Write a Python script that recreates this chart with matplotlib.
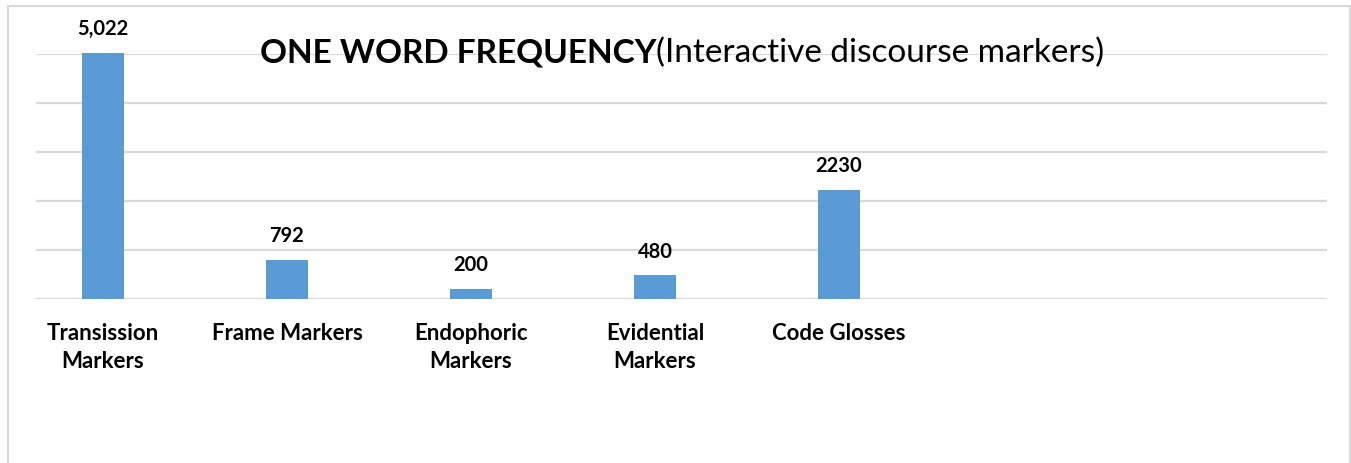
import matplotlib
matplotlib.use('Agg')
import matplotlib.pyplot as plt
from matplotlib.patches import Rectangle

plt.rcParams['font.family'] = ['Lato', 'DejaVu Sans']

categories = ['Transission\nMarkers', 'Frame Markers', 'Endophoric\nMarkers',
              'Evidential\nMarkers', 'Code Glosses']
values = [5022, 792, 200, 480, 2230]
value_labels = ['5,022', '792', '200', '480', '2230']
yticks = [0, 1000, 2000, 3000, 4000, 5000]

bar_color = '#5B9BD5'
grid_color = '#D9D9D9'

fig = plt.figure(figsize=(13.51, 4.63), dpi=100)
ax = fig.add_axes([36 / 1351, 164 / 463, 1291 / 1351, 245 / 463])

x = list(range(len(categories)))
bars = ax.bar(x, values, width=0.23, color=bar_color, zorder=2, clip_on=False)

for xi, v, lab in zip(x, values, value_labels):
    ax.annotate(lab, xy=(xi, v), xytext=(0, 10), textcoords='offset points',
                ha='center', va='bottom', fontsize=14.5, fontweight='bold',
                annotation_clip=False)

ax.set_xlim(-67 / 184, 1224 / 184)
ax.set_ylim(0, 5000)
ax.set_yticks(yticks)
ax.yaxis.grid(True, color=grid_color, linewidth=1.6, zorder=0)
ax.set_axisbelow(True)
ax.tick_params(axis='y', left=False, labelleft=False)
ax.set_xticks(x)
ax.set_xticklabels(categories, fontsize=16, fontweight='bold', linespacing=1.4)
ax.tick_params(axis='x', bottom=False, pad=14)
for s in ax.spines.values():
    s.set_visible(False)

# title: bold part then normal part right after it
t1 = fig.text(260 / 1351, 1 - 53 / 463, 'ONE WORD FREQUENCY', fontsize=24,
              fontweight='bold', ha='left', va='center')
ax.annotate('(Interactive discourse markers)', xy=(1, 0.5), xycoords=t1,
            ha='left', va='center', fontsize=24, annotation_clip=False)

# chart border
fig.patches.append(Rectangle((8 / 1351, -0.05), 1342 / 1351, 1.05 - 6 / 463,
                             transform=fig.transFigure, fill=False,
                             edgecolor=grid_color, linewidth=1.5))

fig.savefig('out.png', dpi=100)
